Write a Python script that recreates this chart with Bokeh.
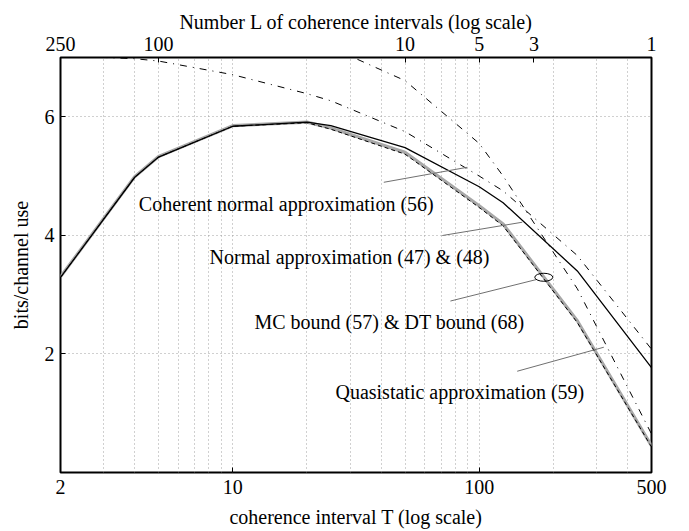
import math
from bokeh.plotting import figure
from bokeh.models import (LogAxis, FixedTicker, CustomJSTickFormatter, Label, Range1d)
from bokeh.embed import file_html
from bokeh.resources import INLINE

# ---------------- data ----------------
T = [2, 4, 5, 10, 20, 25, 50, 100, 125, 250, 500]
normal_approx = [3.29, 4.98, 5.32, 5.84, 5.91, 5.85, 5.48, 4.82, 4.55, 3.40, 1.77]
mc_bound = [3.30, 4.99, 5.33, 5.85, 5.91, 5.81, 5.40, 4.50, 4.19, 2.56, 0.45]
dt_bound = [3.29, 4.98, 5.32, 5.84, 5.90, 5.79, 5.37, 4.47, 4.16, 2.53, 0.43]
coherent = [7.03, 6.98, 6.94, 6.71, 6.39, 6.27, 5.75, 5.00, 4.75, 3.66, 2.08]
T_qs = [20, 25, 50, 100, 125, 250, 500]
quasistatic = [7.50, 7.17, 6.61, 5.55, 5.00, 3.10, 0.65]

bottom_ticks = [2, 10, 100, 500]
grid_T = [3, 4, 5, 6, 7, 8, 9, 10, 20, 30, 40, 50, 60, 70, 80, 90, 100, 200, 300, 400]
y_ticks = [2, 4, 6]
top_L = [250, 100, 10, 5, 3, 1]
n_total = 500

# annotation pointers (T, value)
ptr_x0 = [41.0, 70.8, 76.4, 142.6]
ptr_y0 = [4.895, 3.997, 2.892, 1.708]
ptr_x1 = [89.4, 149.4, 171.9, 320.2]
ptr_y1 = [5.148, 4.221, 3.258, 2.113]

FONT = "Liberation Serif"
FS = "20px"

p = figure(width=689, height=531, x_axis_type="log",
           x_range=Range1d(2, 500), y_range=Range1d(0, 7),
           output_backend="svg", toolbar_location=None,
           min_border_left=60, min_border_right=38,
           min_border_top=57, min_border_bottom=59)
p.background_fill_color = "white"
p.border_fill_color = "white"
p.outline_line_color = "black"
p.outline_line_width = 2
p.outline_line_alpha = 1

# grids
p.xgrid.ticker = FixedTicker(ticks=grid_T)
p.ygrid.ticker = FixedTicker(ticks=y_ticks)
for g in (p.xgrid[0], p.ygrid[0]):
    g.grid_line_color = "#a0a0a0"
    g.grid_line_dash = "1 3"
    g.grid_line_width = 1

def style_axis(ax, standoff, label, label_standoff):
    ax.axis_line_color = None
    ax.major_tick_in = 5
    ax.major_tick_out = 0
    ax.minor_tick_in = 0
    ax.minor_tick_out = 0
    ax.major_tick_line_color = "black"
    ax.major_label_text_font = FONT
    ax.major_label_text_font_size = FS
    ax.major_label_text_color = "black"
    ax.major_label_standoff = standoff
    ax.axis_label = label
    ax.axis_label_text_font = FONT
    ax.axis_label_text_font_size = FS
    ax.axis_label_text_font_style = "normal"
    ax.axis_label_text_color = "black"
    ax.axis_label_standoff = label_standoff

bx = p.xaxis[0]
bx.ticker = FixedTicker(ticks=bottom_ticks)
bx.formatter = CustomJSTickFormatter(code="return String(Math.round(tick));")
style_axis(bx, 7, "coherence interval T (log scale)", 9)

ly = p.yaxis[0]
ly.ticker = FixedTicker(ticks=y_ticks)
style_axis(ly, 6, "bits/channel use", 10)

top = LogAxis(ticker=FixedTicker(ticks=[n_total / L for L in top_L]),
              formatter=CustomJSTickFormatter(code="return String(Math.round(%d / tick));" % n_total))
style_axis(top, 7, "Number L of coherence intervals (log scale)", 1)
p.add_layout(top, "above")

# curves
p.line(T, mc_bound, line_color="#a8a8a8", line_width=3.2)
p.line(T, dt_bound, line_color="black", line_width=1, line_dash="4 3")
p.line(T, normal_approx, line_color="black", line_width=1.3)
p.line(T, coherent, line_color="black", line_width=1, line_dash="7 6 1 6")
p.line(T_qs, quasistatic, line_color="black", line_width=1, line_dash="7 6 1 6")

# pointers and ellipse
p.segment(x0=ptr_x0, y0=ptr_y0, x1=ptr_x1, y1=ptr_y1, line_color="#707070", line_width=1)
p.ellipse(x=[182.8], y=[3.293], width=18, height=8, width_units="screen",
          height_units="screen", fill_color=None, line_color="black", line_width=1)

def lab(x, y, text, **kw):
    d = dict(text_font=FONT, text_font_size=FS, text_color="black",
             text_baseline="alphabetic", text_align="left")
    d.update(kw)
    p.add_layout(Label(x=x, y=y, text=text, **d))

lab(4.157, 4.531, "Coherent normal approximation (56)")
lab(8.05, 3.642, "Normal approximation (47) & (48)")
lab(12.25, 2.535, "MC bound (57) & DT bound (68)")
lab(26.1, 1.354, "Quasistatic approximation (59)")

open("out.html", "w").write(file_html(p, INLINE))
